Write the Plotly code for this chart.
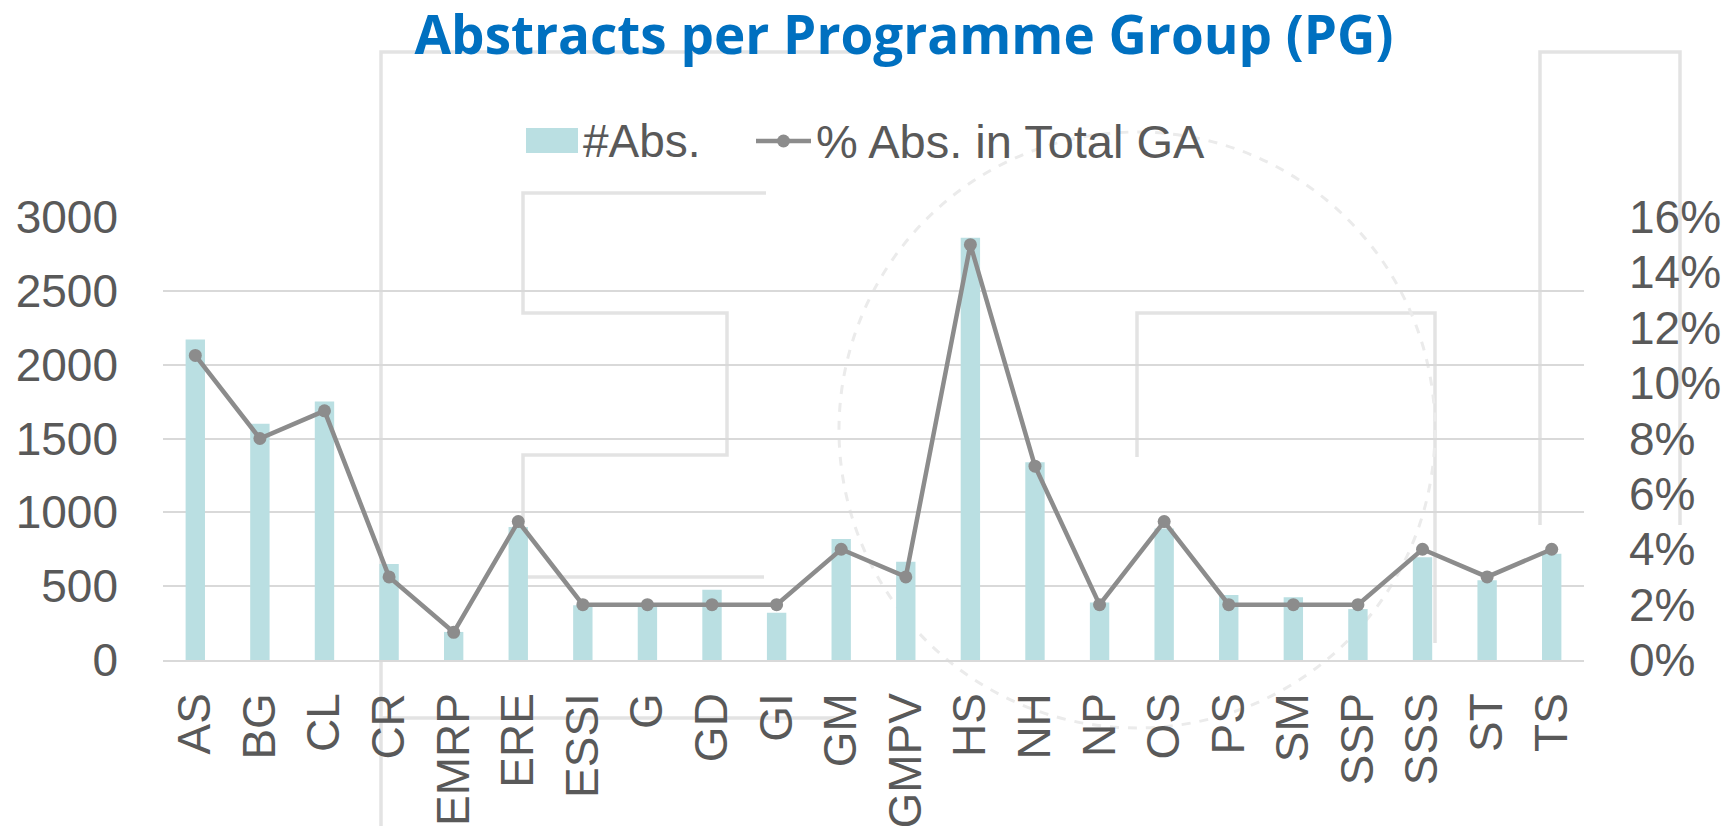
import plotly.graph_objects as go

categories = ["AS", "BG", "CL", "CR", "EMRP", "ERE", "ESSI", "G", "GD", "GI", "GM",
              "GMPV", "HS", "NH", "NP", "OS", "PS", "SM", "SSP", "SSS", "ST", "TS"]
abstracts = [2170, 1600, 1750, 650, 190, 900, 370, 380, 475, 320, 820,
             665, 2860, 1340, 390, 890, 440, 425, 345, 695, 540, 720]
pct_total = [11, 8, 9, 3, 1, 5, 2, 2, 2, 2, 4,
             3, 15, 7, 2, 5, 2, 2, 2, 4, 3, 4]
left_ticks = [0, 500, 1000, 1500, 2000, 2500, 3000]
right_ticks = [0, 2, 4, 6, 8, 10, 12, 14, 16]
series_names = ["#Abs.", "% Abs. in Total GA"]

TXT = "#595959"
FONT = "Liberation Sans, Arial, sans-serif"
BAR_C = "#BADFE2"
LINE_C = "#8C8C8C"
WM_C = "#E3E3E3"
FS = 46

# page has an 8px body margin; figure sized to fit the window
FW, FH = 1723, 818

fig = go.Figure()
fig.add_trace(go.Bar(
    x=categories, y=abstracts, name=series_names[0],
    marker=dict(color=BAR_C, line=dict(width=0)),
    width=0.3, showlegend=False,
))
fig.add_trace(go.Scatter(
    x=categories, y=[p / 100 for p in pct_total], name=series_names[1],
    yaxis="y2", mode="lines+markers",
    line=dict(color=LINE_C, width=4.5),
    marker=dict(color=LINE_C, size=13),
    showlegend=False,
))

# decorations placed relative to the plot area (page pixel reference)
L, W, B, H = 163, 1421, 660, 443
def px(x):
    return (x - L) / W
def py(y):
    return (B - y) / H

def path(points):
    return "M " + " L ".join(f"{px(x)},{py(y)}" for x, y in points)

# faint background logo watermark
watermark = [
    [(861, 52), (381, 52), (381, 826), ],
    [(381, 718), (840, 718)],
    [(766, 193), (523, 193), (523, 313), (727, 313), (727, 455),
     (523, 455), (523, 577), (764, 577)],
    [(1137, 457), (1137, 313), (1435, 313), (1435, 643)],
    [(1540, 525), (1540, 52), (1680, 52), (1680, 525)],
]
shapes = [dict(type="path", xref="paper", yref="paper", path=path(pts),
               line=dict(color=WM_C, width=3.5), layer="below")
          for pts in watermark]
shapes.append(dict(type="circle", xref="paper", yref="paper",
                   x0=px(1137 - 298), x1=px(1137 + 298), y0=py(430 + 298), y1=py(430 - 298),
                   line=dict(color="#EBEBEB", width=3, dash="dash"), layer="below"))

ly = py(141)
shapes += [
    dict(type="rect", xref="paper", yref="paper", x0=px(526), x1=px(578),
         y0=py(153), y1=py(128), fillcolor=BAR_C, line=dict(width=0)),
    dict(type="line", xref="paper", yref="paper", x0=px(756), x1=px(811),
         y0=ly, y1=ly, line=dict(color=LINE_C, width=4.5)),
    dict(type="circle", xref="paper", yref="paper", xsizemode="pixel", ysizemode="pixel",
         xanchor=px(783.5), yanchor=ly, x0=-6.5, x1=6.5, y0=-6.5, y1=6.5,
         fillcolor=LINE_C, line=dict(width=0)),
]
annotations = [
    dict(text=series_names[0], xref="paper", yref="paper", x=px(581), y=ly,
         xanchor="left", yanchor="middle", showarrow=False,
         font=dict(family=FONT, size=FS, color=TXT)),
    dict(text=series_names[1], xref="paper", yref="paper", x=px(814), y=ly,
         xanchor="left", yanchor="middle", showarrow=False,
         font=dict(family=FONT, size=FS + 1, color=TXT)),
]

fig.update_layout(
    width=FW, height=FH,
    margin=dict(l=155, r=147, t=209, b=166, autoexpand=False),
    paper_bgcolor="white", plot_bgcolor="rgba(0,0,0,0)",
    title=dict(text="<b>Abstracts per Programme Group (PG)</b>",
               font=dict(family="Open Sans, sans-serif", size=53, color="#0070C0"),
               x=(904 - 8) / FW, xanchor="center", xref="container",
               y=1 - 27 / FH, yanchor="middle"),
    font=dict(family=FONT, color=TXT, size=FS),
    showlegend=False,
    shapes=shapes,
    annotations=annotations,
    bargap=0.7,
    xaxis=dict(range=[-0.5, len(categories) - 0.5], tickangle=-90,
               tickfont=dict(size=FS, color=TXT), showgrid=False,
               showline=True, linecolor="#D9D9D9", linewidth=1.5, ticks="",
               ticklabelstandoff=13),
    yaxis=dict(range=[0, 3000], tickvals=left_ticks, tickfont=dict(size=FS, color=TXT),
               showgrid=True, gridcolor="#D9D9D9", gridwidth=1.5, zeroline=False,
               showline=False, ticks="", ticklabelstandoff=44),
    yaxis2=dict(range=[0, 0.16], overlaying="y", side="right",
                tickvals=[t / 100 for t in right_ticks],
                ticktext=[f"{t}%" for t in right_ticks],
                tickfont=dict(size=FS, color=TXT), showgrid=False, zeroline=False,
                showline=False, ticks="", ticklabelstandoff=44),
)

fig.write_html("out.html")
